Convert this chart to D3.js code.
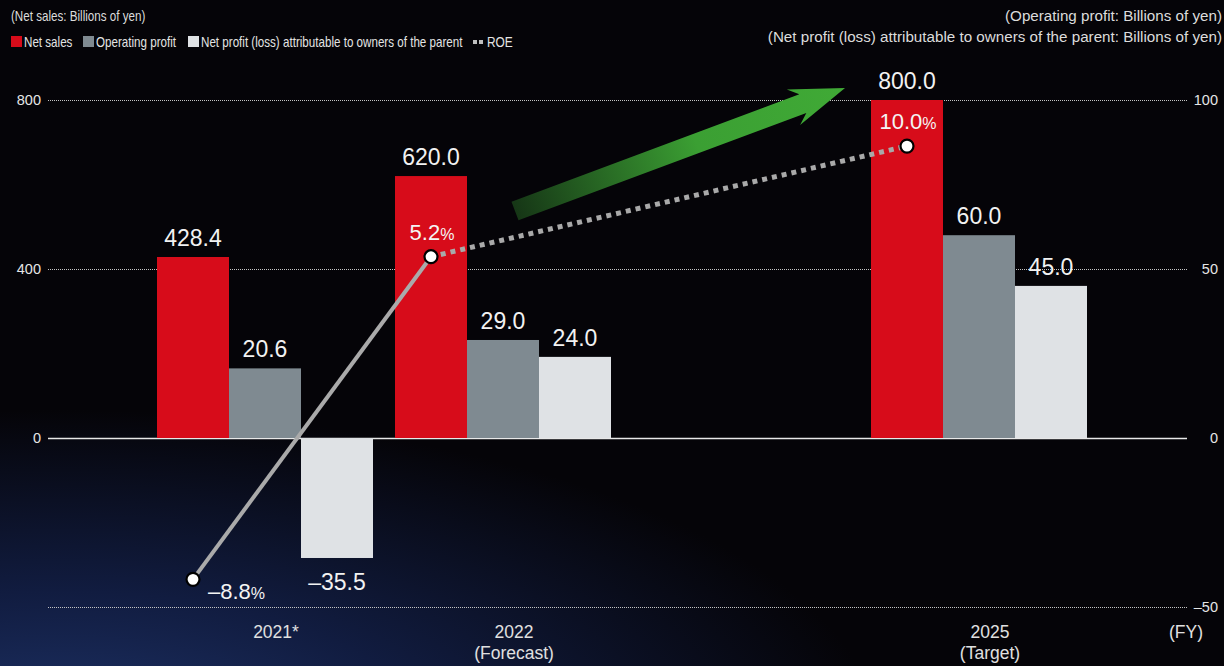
<!DOCTYPE html>
<html><head><meta charset="utf-8">
<script src="https://cdn.jsdelivr.net/npm/d3@7"></script>
<style>
html,body{margin:0;padding:0;background:#050408;}
svg{display:block;font-family:"Liberation Sans",Arial,Helvetica,sans-serif;}
</style>
</head><body>
<svg id="chart" width="1224" height="666"></svg>
<script>
// ---------------- data ----------------
const categories = ["2021*", "2022", "2025"];
const categorySub = ["", "(Forecast)", "(Target)"];
const slots = ["2021*", "2022", "2023-2024", "2025"];   // 2023-2024 is an empty gap slot
const netSales = [428.4, 620.0, 800.0];
const operatingProfit = [20.6, 29.0, 60.0];
const netProfit = [-35.5, 24.0, 45.0];
const roe = [-8.8, 5.2, 10.0];
const leftTicks = [800, 400, 0];
const gridTicks = [800, 400, 0, -400];
const rightTicks = [100, 50, 0, -50];
const seriesKeys = ["ns", "op", "np"];
const seriesNames = ["Net sales", "Operating profit", "Net profit (loss) attributable to owners of the parent"];
const seriesColors = ["#d70c1a", "#7f8a91", "#dfe2e5"];

// ---------------- setup ----------------
const W = 1224, H = 666;
const svg = d3.select("#chart");
const defs = svg.append("defs");

const bg = defs.append("radialGradient").attr("id", "bg")
  .attr("gradientUnits", "userSpaceOnUse")
  .attr("cx", 0).attr("cy", 0).attr("r", 1)
  .attr("gradientTransform", "translate(60,740) scale(820,330)");
bg.append("stop").attr("offset", 0).attr("stop-color", "#1e3368");
bg.append("stop").attr("offset", 0.45).attr("stop-color", "#111c40");
bg.append("stop").attr("offset", 1).attr("stop-color", "#050408");
svg.append("rect").attr("width", W).attr("height", H).attr("fill", "#050408");
svg.append("rect").attr("width", W).attr("height", H).attr("fill", "url(#bg)");

const yL = d3.scaleLinear().domain([-400, 800]).range([607, 100]);
const yR = d3.scaleLinear().domain([-50, 100]).range([607, 100]);
const yROE = d3.scaleLinear().domain([-10, 12]).range([607, 100]);
const x = d3.scaleBand().domain(slots).range([146, 1098]).paddingInner(22 / 238).paddingOuter(11 / 238);
const xs = d3.scaleBand().domain(seriesKeys).range([0, x.bandwidth()]);

const gridX0 = 48, gridX1 = 1187;
const K = 0.83; // horizontal condensation of the small header/legend type

// ---------------- grid ----------------
svg.append("g").selectAll("line").data(gridTicks).join("line")
  .attr("x1", gridX0).attr("x2", gridX1)
  .attr("y1", d => yL(d) + 0.5).attr("y2", d => yL(d) + 0.5)
  .attr("stroke", d => d === 0 ? "#e8e8e8" : "#c4c4c4")
  .attr("stroke-width", d => d === 0 ? 1.6 : 1)
  .attr("stroke-dasharray", d => d === 0 ? null : "1,1");

// left axis labels
svg.append("g").selectAll("text").data(leftTicks).join("text")
  .attr("x", 41).attr("y", d => yL(d) + 5)
  .attr("text-anchor", "end").attr("font-size", 14.5).attr("fill", "#e6e6e6")
  .text(d => d);

// right axis labels
svg.append("g").selectAll("text").data(rightTicks).join("text")
  .attr("x", 1218).attr("y", d => yR(d) + 5)
  .attr("text-anchor", "end").attr("font-size", 14.5).attr("fill", "#e6e6e6")
  .text(d => d < 0 ? "\u2013" + Math.abs(d) : d);

// ---------------- bars ----------------
const rows = categories.map((c, i) => ({
  cat: c, sub: categorySub[i],
  vals: [
    { key: "ns", v: netSales[i], y: yL },
    { key: "op", v: operatingProfit[i], y: yR },
    { key: "np", v: netProfit[i], y: yR }
  ]
}));

const groups = svg.append("g").selectAll("g").data(rows).join("g")
  .attr("transform", d => `translate(${x(d.cat)},0)`);

groups.selectAll("rect").data(d => d.vals).join("rect")
  .attr("x", d => xs(d.key)).attr("width", xs.bandwidth())
  .attr("y", d => Math.min(d.y(d.v), d.y(0)))
  .attr("height", d => Math.abs(d.y(d.v) - d.y(0)))
  .attr("fill", (d, i) => seriesColors[i]);

groups.selectAll("text.val").data(d => d.vals).join("text")
  .attr("class", "val")
  .attr("x", d => xs(d.key) + xs.bandwidth() / 2)
  .attr("y", d => d.v >= 0 ? d.y(d.v) - 11 : d.y(d.v) + 32)
  .attr("text-anchor", "middle").attr("font-size", 23).attr("fill", "#f2f2f2")
  .text(d => (d.v < 0 ? "\u2013" : "") + Math.abs(d.v).toFixed(1));

// x labels
const xl = svg.append("g").selectAll("text").data(rows).join("text")
  .attr("x", d => x(d.cat) + x.bandwidth() / 2 + 11)
  .attr("y", 638).attr("text-anchor", "middle").attr("font-size", 17.5).attr("fill", "#e0e0e0");
xl.append("tspan").text(d => d.cat);
xl.append("tspan").attr("x", d => x(d.cat) + x.bandwidth() / 2 + 11).attr("dy", 21).text(d => d.sub);

svg.append("text").attr("x", 1203).attr("y", 638).attr("text-anchor", "end")
  .attr("font-size", 17.5).attr("fill", "#e0e0e0").text("(FY)");

// ---------------- green arrow (decoration) ----------------
const a0 = [515, 211], a1 = [845, 88];
const aLen = Math.hypot(a1[0] - a0[0], a1[1] - a0[1]);
const aAng = Math.atan2(a1[1] - a0[1], a1[0] - a0[0]) * 180 / Math.PI;
const ag = defs.append("linearGradient").attr("id", "arrowGrad").attr("gradientUnits", "userSpaceOnUse")
  .attr("x1", 0).attr("y1", 0).attr("x2", aLen).attr("y2", 0);
ag.append("stop").attr("offset", 0).attr("stop-color", "#163616");
ag.append("stop").attr("offset", 0.55).attr("stop-color", "#3b9f33");
ag.append("stop").attr("offset", 1).attr("stop-color", "#40aa36");
const arrowPts = [[0, -10], [aLen - 45, -10], [aLen - 55, -19], [aLen, 0], [aLen - 55, 19], [aLen - 45, 10], [0, 10]];
svg.append("path")
  .attr("d", d3.line()(arrowPts) + "Z")
  .attr("transform", `translate(${a0[0]},${a0[1]}) rotate(${aAng})`)
  .attr("fill", "url(#arrowGrad)");

// ---------------- ROE line ----------------
const roePts = categories.map((c, i) => ({
  x: x(c) + xs("ns") + xs.bandwidth() / 2, y: yROE(roe[i]), v: roe[i]
}));
const line = d3.line().x(d => d.x).y(d => d.y);
svg.append("path").attr("d", line(roePts.slice(0, 2)))
  .attr("fill", "none").attr("stroke", "#aaaaaa").attr("stroke-width", 4);
svg.append("path").attr("d", line(roePts.slice(1)))
  .attr("fill", "none").attr("stroke", "#a9a9a9").attr("stroke-width", 5)
  .attr("stroke-dasharray", "5,5");
svg.append("g").selectAll("circle").data(roePts).join("circle")
  .attr("cx", d => d.x).attr("cy", d => d.y).attr("r", 6.5)
  .attr("fill", "#ffffff").attr("stroke", "#000000").attr("stroke-width", 2.2);

const rl = svg.append("g").selectAll("text").data(roePts).join("text")
  .attr("x", d => d.v < 0 ? d.x + 15 : d.x + 1)
  .attr("y", d => d.v < 0 ? d.y + 20 : d.y - 17)
  .attr("text-anchor", d => d.v < 0 ? "start" : "middle")
  .attr("font-size", 22).attr("fill", "#f4f4f4");
rl.append("tspan").text(d => (d.v < 0 ? "\u2013" : "") + Math.abs(d.v).toFixed(1));
rl.append("tspan").attr("font-size", 16).text("%");

// ---------------- header / legend ----------------
svg.append("text").attr("transform", `translate(11,21) scale(${K},1)`)
  .attr("font-size", 14).attr("fill", "#dcdcdc")
  .text("(Net sales: Billions of yen)");
svg.append("text").attr("x", 1222).attr("y", 21).attr("text-anchor", "end").attr("font-size", 15.2).attr("fill", "#dcdcdc")
  .text("(Operating profit: Billions of yen)");
svg.append("text").attr("x", 1222).attr("y", 42).attr("text-anchor", "end").attr("font-size", 15.2).attr("fill", "#dcdcdc")
  .text("(Net profit (loss) attributable to owners of the parent: Billions of yen)");

const legX = [11, 83, 188];
const lg = svg.append("g").selectAll("g").data(seriesNames).join("g")
  .attr("transform", (d, i) => `translate(${legX[i]},36)`);
lg.append("rect").attr("width", 11).attr("height", 11).attr("fill", (d, i) => seriesColors[i]);
lg.append("text").attr("transform", `translate(13,11) scale(${K},1)`)
  .attr("font-size", 14).attr("fill", "#e4e4e4")
  .text(d => d);
svg.append("line").attr("x1", 473).attr("x2", 483).attr("y1", 42).attr("y2", 42)
  .attr("stroke", "#bfbfbf").attr("stroke-width", 4).attr("stroke-dasharray", "4,2");
svg.append("text").attr("transform", `translate(487,47) scale(0.85,1)`)
  .attr("font-size", 14).attr("fill", "#e4e4e4")
  .text("ROE");
</script>
</body></html>
